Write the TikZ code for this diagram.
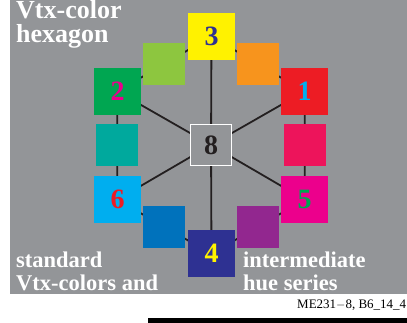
\documentclass[tikz,border=0pt]{standalone}
\usepackage{fontspec}
\setmainfont{Liberation Serif}
\usetikzlibrary{positioning,backgrounds}
\definecolor{bggray}{HTML}{939598}
\definecolor{linedark}{HTML}{231F20}
\definecolor{vyellow}{HTML}{FFF200}
\definecolor{vlgreen}{HTML}{8DC63F}
\definecolor{vorange}{HTML}{F7941D}
\definecolor{vgreen}{HTML}{00A651}
\definecolor{vred}{HTML}{ED1C24}
\definecolor{vteal}{HTML}{00A99D}
\definecolor{vcrimson}{HTML}{ED145B}
\definecolor{vcyan}{HTML}{00AEEF}
\definecolor{vmagenta}{HTML}{EC008C}
\definecolor{vblue}{HTML}{0072BC}
\definecolor{vpurple}{HTML}{92278F}
\definecolor{vnavy}{HTML}{2E3192}
\tikzset{
  bigbox/.style={rectangle,draw=none,inner sep=0pt,minimum size=47pt,font=\fontsize{28}{28}\selectfont\bfseries},
  smallbox/.style={rectangle,draw=none,inner sep=0pt,minimum size=42pt},
  spoke/.style={draw=linedark,line width=1.8pt},
  whitetext/.style={text=white,inner sep=0pt,anchor=base west}
}
\begin{document}
\begin{tikzpicture}[x=1pt,y=-1pt]
\useasboundingbox (0,0) rectangle (407,323);
\fill[black] (148,318) rectangle (407,323);

% standard colours and intermediate hues
\node[bigbox,fill=vyellow,text=vnavy] (c3) at (211.5,36.5) {3};
\node[smallbox,fill=vlgreen] (c23) at (164,64) {};
\node[smallbox,fill=vorange] (c31) at (258,64) {};
\node[bigbox,fill=vgreen,text=vmagenta] (c2) at (117.5,91.5) {2};
\node[bigbox,fill=vred,text=vcyan] (c1) at (304.5,91.5) {1};
\node[smallbox,fill=vteal] (c62) at (117,145) {};
\node[smallbox,fill=vcrimson] (c15) at (305,145) {};
\node[rectangle,draw=white,line width=1.3pt,inner sep=0pt,minimum size=41pt,
      fill=bggray,text=linedark,font=\fontsize{28}{28}\selectfont\bfseries] (c8) at (211,145) {8};
\node[bigbox,fill=vcyan,text=vred] (c6) at (117.5,199.5) {6};
\node[bigbox,fill=vmagenta,text=vgreen] (c5) at (304.5,199.5) {5};
\node[smallbox,fill=vblue] (c46) at (164,227) {};
\node[smallbox,fill=vpurple] (c54) at (258,227) {};
\node[bigbox,fill=vnavy,text=vyellow] (c4) at (211.5,253.5) {4};

% texts
\node[whitetext,font=\fontsize{26}{26}\selectfont\bfseries] (t1) at (16,19) {Vtx-color};
\node[whitetext,font=\fontsize{26}{26}\selectfont\bfseries] (t2) at (16,43) {hexagon};
\node[whitetext,font=\fontsize{22.5}{22.5}\selectfont\bfseries] (t3) at (16,268) {standard};
\node[whitetext,font=\fontsize{22.5}{22.5}\selectfont\bfseries] (t4) at (16,290) {Vtx-colors and};
\node[whitetext,font=\fontsize{22.5}{22.5}\selectfont\bfseries] (t5) at (243,268) {intermediate};
\node[whitetext,font=\fontsize{22.5}{22.5}\selectfont\bfseries] (t6) at (243,290) {hue series};
\node[inner sep=0pt,anchor=base west,font=\fontsize{13}{13}\selectfont] (lbl) at (297,308) {ME231$-$8, B6\_14\_4};

% connectors behind the boxes
\begin{pgfonlayer}{background}
\fill[bggray] (10,0) rectangle (407,294);
\draw[spoke] (c3.center) -- (c23.center) -- (c2.center) -- (c62.center) -- (c6.center) -- (c46.center)
  -- (c4.center) -- (c54.center) -- (c5.center) -- (c15.center) -- (c1.center) -- (c31.center) -- cycle;
\foreach \k in {1,2,3,4,5,6}
  \draw[spoke] (c8.center) -- (c\k.center);
\end{pgfonlayer}
\end{tikzpicture}
\end{document}
